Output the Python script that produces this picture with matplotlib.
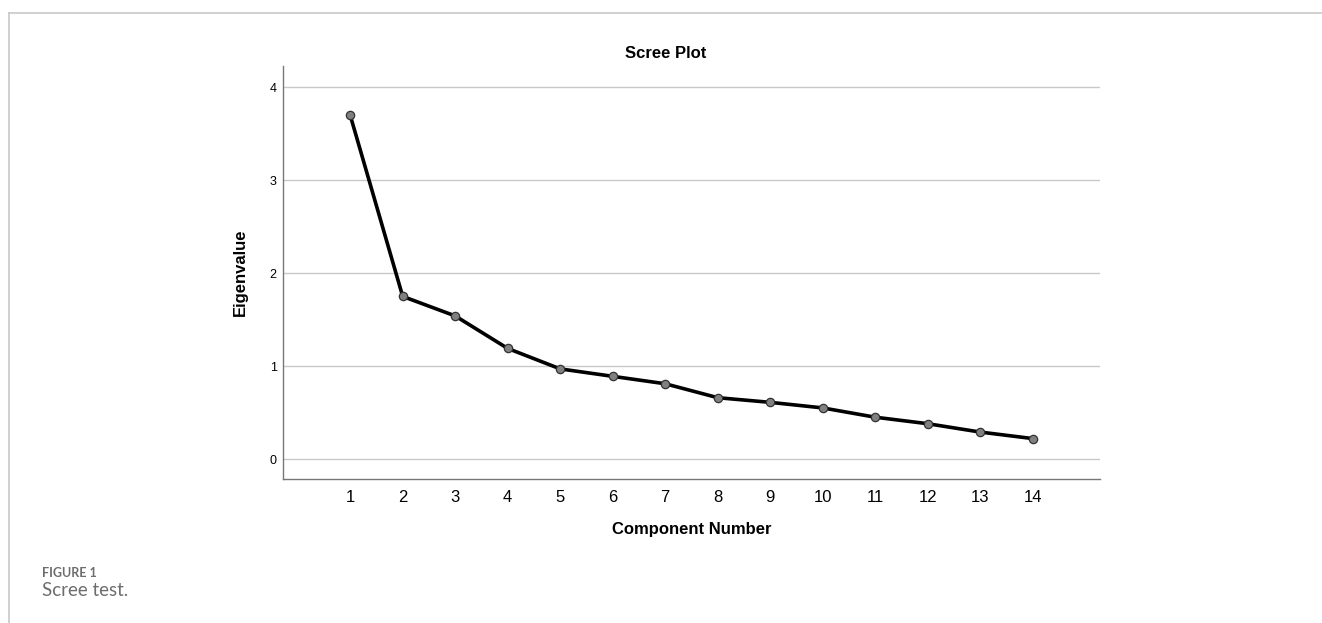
import matplotlib
matplotlib.use("Agg")
import matplotlib.pyplot as plt
from matplotlib.lines import Line2D

components = list(range(1, 15))
eigenvalues = [3.70, 1.75, 1.54, 1.19, 0.97, 0.89, 0.81, 0.66, 0.61, 0.55, 0.45, 0.38, 0.29, 0.22]
y_ticks = [0, 1, 2, 3, 4]

plt.rcParams['font.family'] = ['Liberation Sans', 'DejaVu Sans']

W, H = 1322, 623
fig = plt.figure(figsize=(W / 100, H / 100), dpi=100)
ax = fig.add_axes([283 / W, 1 - 479 / H, (1100 - 283) / W, (479 - 66) / H])

ax.plot(components, eigenvalues, color='black', lw=2.6, marker='o', ms=6,
        mfc='#808080', mec='#333333', mew=0.9, zorder=3)

ax.set_xlim(-0.28, 15.28)
ax.set_ylim(-0.215, 4.23)
ax.set_xticks(components)
ax.set_yticks(y_ticks)
ax.tick_params(axis='both', length=0, colors='black')
ax.tick_params(axis='x', labelsize=12, pad=8)
ax.tick_params(axis='y', labelsize=9, pad=4.5)
ax.grid(axis='y', color='#c8c8c8', lw=1)
ax.set_axisbelow(True)
for s in ['top', 'right']:
    ax.spines[s].set_visible(False)
for s in ['left', 'bottom']:
    ax.spines[s].set_color('#777777')
    ax.spines[s].set_linewidth(1)

fig.text(666 / W, 1 - 53 / H, 'Scree Plot', fontsize=12, fontweight='bold',
         ha='center', va='center')
ax.set_xlabel('Component Number', fontsize=12, fontweight='bold', labelpad=12)
ax.set_ylabel('Eigenvalue', fontsize=12, fontweight='bold')
ax.yaxis.set_label_coords((248 - 283) / (1100 - 283), 0.5)

# page frame
fig.add_artist(Line2D([9 / W, 1], [1 - 13 / H, 1 - 13 / H], color='#c8c8c8', lw=1.2))
fig.add_artist(Line2D([9 / W, 9 / W], [0, 1 - 13 / H], color='#c8c8c8', lw=1.2))

fig.text(42 / W, 1 - 573 / H, 'FIGURE 1', fontsize=9, fontweight='bold',
         color='#6d6d6d', family=['Lato', 'DejaVu Sans'], va='center')
fig.text(42 / W, 1 - 590 / H, 'Scree test.', fontsize=13.5,
         color='#6d6d6d', family=['Lato', 'DejaVu Sans'], va='center')

fig.savefig('out.png', dpi=100)
